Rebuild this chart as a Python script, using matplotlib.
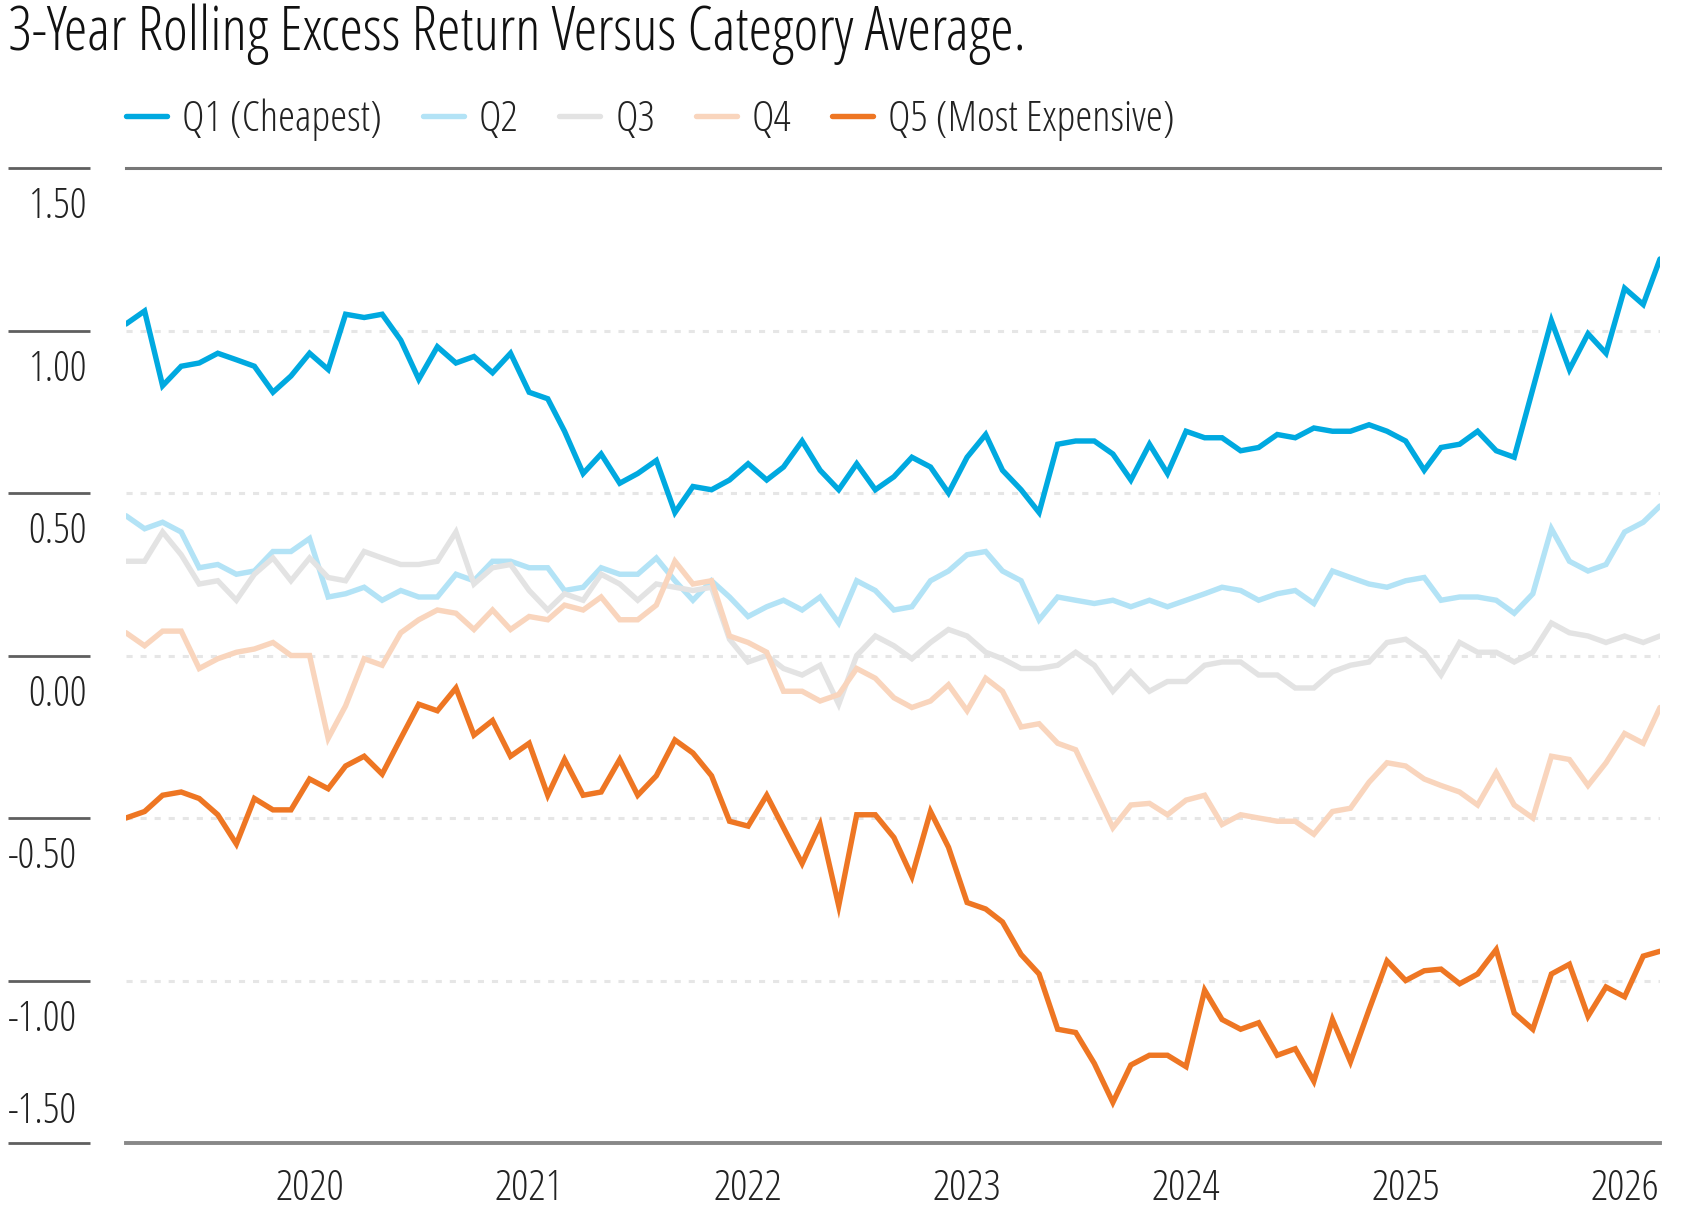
import numpy as np
import pandas as pd
import matplotlib
matplotlib.use("Agg")
import matplotlib.pyplot as plt
from matplotlib.transforms import blended_transform_factory

# ---------- data (monthly, Mar 2019 .. Mar 2026) ----------
q1 = [1.02, 1.06, 0.83, 0.89, 0.90, 0.93, 0.91, 0.89, 0.81, 0.86, 0.93, 0.88,
      1.05, 1.04, 1.05, 0.97, 0.85, 0.95, 0.90, 0.92, 0.87, 0.93, 0.81, 0.79,
      0.69, 0.56, 0.62, 0.53, 0.56, 0.60, 0.44, 0.52, 0.51, 0.54, 0.59, 0.54,
      0.58, 0.66, 0.57, 0.51, 0.59, 0.51, 0.55, 0.61, 0.58, 0.50, 0.61, 0.68,
      0.57, 0.51, 0.44, 0.65, 0.66, 0.66, 0.62, 0.54, 0.65, 0.56, 0.69, 0.67,
      0.67, 0.63, 0.64, 0.68, 0.67, 0.70, 0.69, 0.69, 0.71, 0.69, 0.66, 0.57,
      0.64, 0.65, 0.69, 0.63, 0.61, 0.82, 1.03, 0.88, 0.99, 0.93, 1.13, 1.08,
      1.22]
q2 = [0.43, 0.39, 0.41, 0.38, 0.27, 0.28, 0.25, 0.26, 0.32, 0.32, 0.36, 0.18,
      0.19, 0.21, 0.17, 0.20, 0.18, 0.18, 0.25, 0.23, 0.29, 0.29, 0.27, 0.27,
      0.20, 0.21, 0.27, 0.25, 0.25, 0.30, 0.23, 0.17, 0.23, 0.18, 0.12, 0.15,
      0.17, 0.14, 0.18, 0.10, 0.23, 0.20, 0.14, 0.15, 0.23, 0.26, 0.31, 0.32,
      0.26, 0.23, 0.11, 0.18, 0.17, 0.16, 0.17, 0.15, 0.17, 0.15, 0.17, 0.19,
      0.21, 0.20, 0.17, 0.19, 0.20, 0.16, 0.26, 0.24, 0.22, 0.21, 0.23, 0.24,
      0.17, 0.18, 0.18, 0.17, 0.13, 0.19, 0.39, 0.29, 0.26, 0.28, 0.38, 0.41,
      0.46]
q3 = [0.29, 0.29, 0.38, 0.31, 0.22, 0.23, 0.17, 0.25, 0.30, 0.23, 0.30, 0.24,
      0.23, 0.32, 0.30, 0.28, 0.28, 0.29, 0.38, 0.22, 0.27, 0.28, 0.20, 0.14,
      0.19, 0.17, 0.25, 0.22, 0.17, 0.22, 0.21, 0.20, 0.21, 0.05, -0.02, 0.00,
      -0.04, -0.06, -0.03, -0.15, 0.00, 0.06, 0.03, -0.01, 0.04, 0.08, 0.06, 0.01,
      -0.01, -0.04, -0.04, -0.03, 0.01, -0.03, -0.11, -0.05, -0.11, -0.08, -0.08, -0.03,
      -0.02, -0.02, -0.06, -0.06, -0.10, -0.10, -0.05, -0.03, -0.02, 0.04, 0.05, 0.01,
      -0.06, 0.04, 0.01, 0.01, -0.02, 0.01, 0.10, 0.07, 0.06, 0.04, 0.06, 0.04,
      0.06]
q4 = [0.07, 0.03, 0.075, 0.075, -0.04, -0.01, 0.01, 0.02, 0.04, 0.00, 0.00, -0.255,
      -0.155, -0.01, -0.03, 0.07, 0.11, 0.14, 0.13, 0.08, 0.14, 0.08, 0.12, 0.11,
      0.155, 0.14, 0.18, 0.11, 0.11, 0.155, 0.29, 0.22, 0.23, 0.06, 0.04, 0.01,
      -0.11, -0.11, -0.14, -0.12, -0.04, -0.07, -0.13, -0.16, -0.14, -0.09, -0.17, -0.07,
      -0.11, -0.22, -0.21, -0.27, -0.29, -0.41, -0.53, -0.46, -0.455, -0.49, -0.445, -0.43,
      -0.52, -0.49, -0.50, -0.51, -0.51, -0.55, -0.48, -0.47, -0.39, -0.33, -0.34, -0.38,
      -0.40, -0.42, -0.46, -0.36, -0.46, -0.50, -0.31, -0.32, -0.40, -0.33, -0.24, -0.27,
      -0.16]
q5 = [-0.50, -0.48, -0.43, -0.42, -0.44, -0.49, -0.58, -0.44, -0.475, -0.475, -0.38, -0.41,
      -0.34, -0.31, -0.365, -0.255, -0.15, -0.17, -0.10, -0.245, -0.20, -0.31, -0.27, -0.43,
      -0.32, -0.43, -0.42, -0.32, -0.43, -0.37, -0.26, -0.30, -0.37, -0.51, -0.525, -0.43,
      -0.53, -0.64, -0.52, -0.77, -0.49, -0.49, -0.56, -0.68, -0.48, -0.59, -0.76, -0.78,
      -0.82, -0.92, -0.98, -1.15, -1.16, -1.255, -1.375, -1.26, -1.23, -1.23, -1.265, -1.03,
      -1.12, -1.15, -1.13, -1.23, -1.21, -1.31, -1.12, -1.25, -1.09, -0.94, -1.00, -0.97,
      -0.965, -1.01, -0.98, -0.905, -1.10, -1.15, -0.98, -0.95, -1.11, -1.02, -1.05, -0.925,
      -0.91]

series = [q1, q2, q3, q4, q5]
labels = ["Q1 (Cheapest)", "Q2", "Q3", "Q4", "Q5 (Most Expensive)"]
colors = ["#00a9e0", "#b3e3f6", "#e3e3e3", "#f9d5bd", "#ee7623"]
years = [2020, 2021, 2022, 2023, 2024, 2025, 2026]
yvals = [1.5, 1.0, 0.5, 0.0, -0.5, -1.0, -1.5]

dates = pd.date_range("2019-03-01", periods=len(q1), freq="MS")

# condensed light face, close to the Univers Condensed of the original
plt.rcParams["font.family"] = ["Open Sans", "DejaVu Sans"]
plt.rcParams["font.stretch"] = "condensed"
plt.rcParams["font.weight"] = 300

W, H = 1688, 1230
fig = plt.figure(figsize=(W / 100, H / 100), dpi=100)
ax = fig.add_axes([126 / W, 1 - 1143 / H, (1660 - 126) / W, (1143 - 168) / H])

# ---------- grid ----------
for v in yvals[1:-1]:
    ax.axhline(v, color="#e6e6e6", lw=2.2, dashes=(2, 2.6), zorder=0)
ax.axhline(1.5, color="#777777", lw=2.2, clip_on=False, zorder=1)
ax.axhline(-1.5, color="#888888", lw=2.8, clip_on=False, zorder=1)

# ---------- lines ----------
for s, lab, c in zip(series, labels, colors):
    ax.plot(dates, s, color=c, lw=3.9, label=lab,
            solid_capstyle="round", solid_joinstyle="miter", zorder=2)

ax.set_xlim(dates[0], dates[-1])
ax.set_ylim(-1.5, 1.5)
for sp in ax.spines.values():
    sp.set_visible(False)
ax.set_yticks([])
ax.set_xticks(pd.to_datetime([f"{y}-01-01" for y in years]))
ax.set_xticklabels([str(y) for y in years], fontsize=31, color="#222222")
ax.tick_params(axis="x", length=0, pad=18)

# ---------- left axis: short rules + labels ----------
trans = blended_transform_factory(fig.transFigure, ax.transData)
for v in yvals:
    ax.plot([8 / W, 90 / W], [v, v], transform=trans, color="#5f5f5f",
            lw=2, clip_on=False, solid_capstyle="butt")
    txt = f"{v:.2f}"
    dy = 0.095 if v == -1.5 else -0.12
    if v < 0:
        ax.text(8 / W, v + dy, txt, transform=trans, ha="left", va="center",
                fontsize=30, color="#222222")
    else:
        ax.text(87 / W, v + dy, txt, transform=trans, ha="right", va="center",
                fontsize=30, color="#222222")

# ---------- title & legend ----------
fig.text(8 / W, 1 - 50 / H, "3-Year Rolling Excess Return Versus Category Average.",
         fontsize=43, color="#111111", ha="left", va="baseline")

ax.legend(loc="center left", bbox_to_anchor=(126 / W, 1 - 120 / H),
          bbox_transform=fig.transFigure, ncol=5, frameon=False, fontsize=31,
          handlelength=0.95, handletextpad=0.35, columnspacing=0.95,
          borderpad=0, borderaxespad=0, labelcolor="#222222")

fig.savefig("out.png", dpi=100)
